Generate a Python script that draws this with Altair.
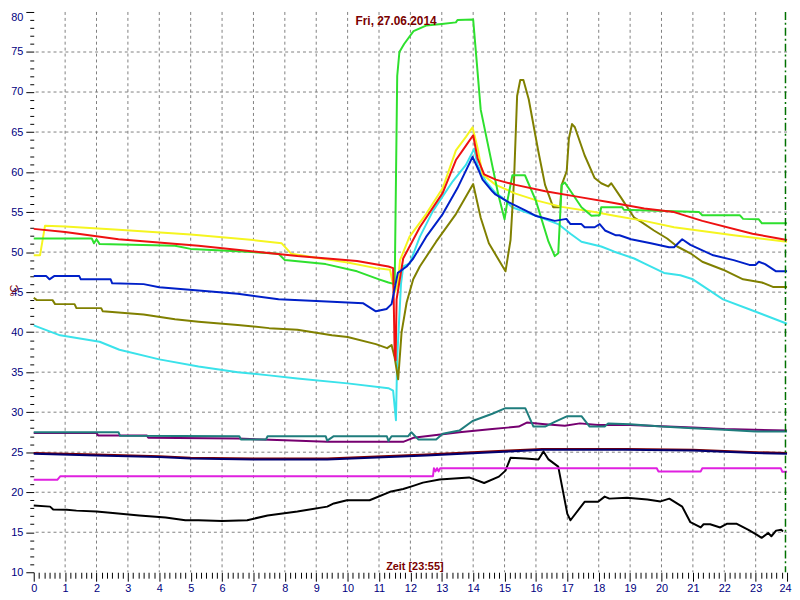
import altair as alt
import pandas as pd

# ---------------- data (hour of day, temperature in °C) ----------------
green_t = [0, 1.85, 1.92, 2.0, 2.1, 4.5, 5.0, 6.5, 7.8, 8.0, 9.3, 10.3, 11.0, 11.3, 11.5, 11.58, 11.65, 11.8, 12.1, 12.5, 13.0, 13.45, 13.5, 14.0, 14.1, 14.24, 14.8, 15.0, 15.1, 15.25, 15.65, 16.0, 16.4, 16.6, 16.71, 16.82, 16.92, 17.45, 17.77, 18.03, 18.08, 18.75, 18.8, 21.2, 21.3, 22.5, 22.6, 23.1, 23.2, 24.0]
green_v = [51.7, 51.7, 51.1, 51.6, 51.0, 50.8, 50.4, 50.1, 49.8, 49.0, 48.5, 47.6, 46.6, 46.2, 46.0, 72.0, 75.0, 76.0, 77.6, 78.3, 78.5, 78.7, 79.0, 79.05, 74.4, 67.8, 57.2, 54.1, 56.6, 59.6, 59.6, 56.4, 51.3, 49.5, 49.85, 58.4, 58.7, 55.6, 54.55, 54.6, 55.6, 55.6, 55.3, 55.0, 54.6, 54.6, 54.15, 54.1, 53.6, 53.6]

yellow_t = [0, 0.2, 0.36, 1.0, 2.7, 5.0, 7.0, 7.9, 8.2, 9.0, 10.0, 10.9, 11.35, 11.5, 11.6, 11.67, 11.97, 12.5, 13.03, 13.45, 13.77, 13.98, 14.14, 14.3, 14.72, 15.35, 16.07, 16.82, 17.87, 18.5, 19.45, 20.4, 22.3, 24.0]
yellow_v = [49.6, 49.6, 53.3, 53.2, 52.8, 52.2, 51.5, 51.1, 49.8, 49.3, 48.7, 48.0, 47.8, 45.0, 46.0, 49.0, 51.9, 54.75, 58.0, 62.7, 64.4, 65.6, 63.0, 59.7, 58.4, 57.3, 56.4, 55.65, 55.0, 54.55, 53.9, 53.1, 52.1, 51.3]

red_t = [0, 1.0, 2.7, 5.25, 8.4, 10.3, 11.3, 11.45, 11.5, 11.53, 11.56, 11.77, 12.3, 13.03, 13.45, 13.77, 14.0, 14.14, 14.35, 14.72, 15.35, 16.3, 17.35, 18.4, 19.45, 20.4, 21.3, 22.9, 24.0]
red_v = [52.9, 52.5, 51.6, 50.8, 49.5, 48.9, 48.2, 48.0, 37.2, 36.5, 44.1, 49.2, 53.1, 57.4, 61.5, 63.3, 64.6, 61.7, 59.7, 59.05, 58.4, 57.6, 56.9, 56.2, 55.45, 55.0, 53.9, 52.3, 51.5]

blue_t = [0, 0.4, 0.5, 0.65, 1.45, 1.5, 2.45, 2.5, 3.5, 4.0, 5.25, 6.5, 7.8, 9.0, 10.5, 10.9, 11.24, 11.4, 11.6, 11.88, 12.09, 12.5, 13.03, 13.5, 13.98, 14.19, 14.3, 14.61, 14.71, 15.14, 15.35, 15.66, 15.98, 16.6, 16.97, 17.1, 17.45, 17.55, 17.87, 18.03, 18.2, 18.55, 18.66, 19.03, 19.66, 20.24, 20.4, 20.66, 20.92, 21.65, 22.3, 22.8, 23.0, 23.1, 23.3, 23.65, 24.0]
blue_v = [47.0, 47.0, 46.6, 47.0, 47.0, 46.6, 46.6, 46.1, 46.0, 45.6, 45.2, 44.8, 44.1, 43.9, 43.6, 42.6, 42.9, 43.5, 47.4, 48.2, 49.2, 51.9, 54.75, 58.0, 61.9, 60.1, 59.05, 57.6, 57.2, 56.2, 55.8, 55.2, 54.55, 53.9, 54.15, 53.5, 53.5, 53.1, 53.1, 53.5, 52.7, 52.1, 52.1, 51.6, 51.1, 50.6, 50.6, 51.6, 50.9, 49.6, 49.0, 48.4, 48.4, 48.8, 48.5, 47.6, 47.6]

olive_t = [0, 0.1, 0.6, 0.68, 1.3, 1.36, 2.15, 2.2, 3.5, 4.5, 5.25, 6.5, 7.5, 8.4, 9.5, 10.0, 10.9, 11.26, 11.4, 11.5, 11.61, 11.72, 11.88, 12.09, 12.3, 12.82, 13.45, 14.0, 14.24, 14.5, 15.03, 15.19, 15.3, 15.4, 15.5, 15.6, 15.77, 16.08, 16.29, 16.55, 16.77, 16.82, 16.98, 17.05, 17.15, 17.24, 17.55, 17.87, 18.08, 18.3, 18.4, 18.71, 19.13, 19.34, 19.76, 20.18, 20.5, 20.92, 21.3, 21.96, 22.6, 23.2, 23.55, 24.0]
olive_v = [44.3, 44.0, 44.0, 43.5, 43.5, 43.0, 43.0, 42.6, 42.2, 41.6, 41.3, 40.9, 40.5, 40.3, 39.6, 39.4, 38.5, 38.0, 38.4, 36.8, 34.1, 40.0, 43.7, 46.6, 48.2, 51.3, 54.75, 58.5, 54.3, 51.1, 47.6, 51.5, 58.85, 69.5, 71.5, 71.5, 69.1, 62.5, 58.4, 55.6, 55.6, 58.4, 60.1, 64.2, 66.0, 65.6, 62.1, 59.25, 58.6, 58.2, 58.6, 56.8, 54.3, 53.8, 52.7, 51.7, 50.7, 49.85, 48.8, 47.8, 46.6, 46.2, 45.65, 45.65]

cyan_t = [0, 0.84, 2.1, 2.73, 4.0, 5.25, 6.5, 7.5, 8.4, 10.0, 11.3, 11.45, 11.54, 11.58, 11.7, 11.77, 11.98, 12.3, 12.72, 13.35, 13.77, 14.03, 14.14, 14.4, 14.71, 14.93, 15.24, 15.98, 16.71, 17.1, 17.45, 18.08, 18.5, 19.13, 19.45, 20.08, 20.6, 21.0, 21.96, 22.9, 24.0]
cyan_v = [40.85, 39.6, 38.8, 37.8, 36.6, 35.7, 35.0, 34.6, 34.2, 33.6, 33.0, 32.7, 29.0, 36.8, 46.0, 48.2, 48.6, 51.9, 55.15, 58.85, 60.9, 62.9, 60.9, 58.85, 57.4, 56.8, 55.6, 54.55, 53.5, 52.3, 51.3, 50.7, 50.05, 49.2, 48.6, 47.4, 47.1, 46.6, 44.1, 42.7, 41.05]

teal_t = [0, 2.7, 2.75, 6.55, 6.6, 7.4, 7.45, 9.3, 9.35, 9.56, 11.25, 11.3, 11.4, 11.93, 12.03, 12.25, 12.82, 13.03, 13.56, 13.98, 14.61, 15.03, 15.66, 15.92, 16.29, 16.6, 17.0, 17.45, 17.71, 18.19, 18.3, 19.0, 20.0, 21.0, 22.0, 23.0, 24.0]
teal_v = [27.5, 27.5, 27.05, 27.0, 26.6, 26.6, 27.0, 27.0, 26.45, 27.0, 27.0, 26.4, 27.0, 27.0, 27.5, 26.6, 26.6, 27.3, 27.7, 28.9, 29.8, 30.5, 30.5, 28.2, 28.2, 28.8, 29.5, 29.5, 28.2, 28.2, 28.6, 28.5, 28.2, 28.0, 27.8, 27.6, 27.6]

purple_t = [0, 2.0, 2.05, 3.6, 3.65, 6.5, 8.0, 9.35, 11.77, 12.09, 13.56, 14.61, 15.45, 15.71, 16.29, 16.92, 17.4, 17.98, 19.0, 21.0, 22.0, 24.0]
purple_v = [27.4, 27.4, 27.1, 27.1, 26.8, 26.7, 26.5, 26.3, 26.3, 26.8, 27.5, 27.9, 28.2, 28.7, 28.5, 28.3, 28.6, 28.4, 28.4, 28.1, 27.9, 27.7]

navy_t = [0, 2.0, 4.0, 5.0, 7.0, 9.35, 12.5, 15.14, 16.2, 18.85, 21.0, 23.0, 24.0]
navy_v = [24.8, 24.6, 24.4, 24.2, 24.1, 24.1, 24.6, 25.1, 25.3, 25.3, 25.2, 24.9, 24.8]

maroon_t = [0, 2.0, 4.0, 5.0, 7.0, 9.35, 12.5, 15.14, 16.2, 18.85, 21.0, 23.0, 24.0]
maroon_v = [24.9, 24.7, 24.5, 24.3, 24.2, 24.2, 24.7, 25.2, 25.4, 25.4, 25.3, 25.0, 24.9]

magenta_t = [0, 0.75, 0.85, 12.72, 12.75, 12.8, 12.85, 12.9, 12.95, 19.85, 19.9, 21.25, 21.3, 23.8, 23.85, 24.0]
magenta_v = [21.55, 21.55, 22.0, 22.0, 23.0, 22.6, 23.0, 22.6, 23.0, 23.0, 22.6, 22.6, 23.0, 23.0, 22.55, 22.55]

black_t = [0, 0.52, 0.62, 1.05, 1.36, 2.0, 2.52, 3.36, 4.2, 4.83, 5.25, 6.0, 6.8, 7.45, 8.4, 9.35, 9.56, 9.98, 10.7, 11.35, 11.77, 12.09, 12.4, 12.93, 13.87, 14.35, 14.82, 15.03, 15.19, 15.66, 16.08, 16.24, 16.4, 16.71, 17.0, 17.1, 17.55, 17.98, 18.19, 18.34, 18.9, 19.55, 19.97, 20.25, 20.66, 20.92, 21.25, 21.34, 21.55, 21.87, 22.08, 22.4, 22.77, 23.03, 23.19, 23.4, 23.5, 23.65, 23.82, 23.87]
black_v = [18.35, 18.2, 17.85, 17.8, 17.7, 17.6, 17.4, 17.1, 16.85, 16.5, 16.5, 16.4, 16.5, 17.1, 17.6, 18.2, 18.6, 19.0, 19.0, 20.05, 20.4, 20.8, 21.2, 21.6, 21.85, 21.15, 21.95, 22.7, 24.3, 24.2, 24.1, 25.1, 24.1, 23.2, 17.3, 16.5, 18.8, 18.8, 19.45, 19.2, 19.3, 19.1, 18.85, 19.2, 18.2, 16.25, 15.6, 16.0, 16.0, 15.6, 16.05, 16.05, 15.3, 14.7, 14.3, 14.9, 14.5, 15.2, 15.3, 15.1]

# draw order: first listed is drawn first (bottom)
series = [
    ("black", black_t, black_v, "#000000"),
    ("magenta", magenta_t, magenta_v, "#e020e0"),
    ("maroon", maroon_t, maroon_v, "#800000"),
    ("navy", navy_t, navy_v, "#000070"),
    ("purple", purple_t, purple_v, "#760070"),
    ("teal", teal_t, teal_v, "#1f7d7d"),
    ("cyan", cyan_t, cyan_v, "#3ae2ea"),
    ("olive", olive_t, olive_v, "#808000"),
    ("yellow", yellow_t, yellow_v, "#f5f520"),
    ("green", green_t, green_v, "#2ee02e"),
    ("red", red_t, red_v, "#ee1111"),
    ("blue", blue_t, blue_v, "#0020c8"),
]

title_text = "Fri, 27.06.2014"
xlabel_text = "Zeit [23:55]"
y_title = "°C"
now_marker = [23.95]

x_major = list(range(0, 25))
x_minor = [i / 6 for i in range(0, 145) if i % 6 != 0]
x_grid = list(range(1, 24))
y_major = list(range(10, 81, 5))
y_minor = [v for v in range(10, 81) if v % 5 != 0]
y_grid = list(range(15, 80, 5))

# ---------------- chart ----------------
XS = alt.Scale(domain=[0, 24], nice=False, zero=False)
YS = alt.Scale(domain=[10, 80], nice=False, zero=False)
FONT = "Liberation Sans"
LABEL_COLOR = "#000080"
DARKRED = "#7a0000"
GRID = dict(color="#808080", strokeWidth=1, strokeDash=[3, 3])

frame = pd.DataFrame({"t": [0, 24], "v": [10, 80]})

vgrid = alt.Chart(pd.DataFrame({"t": x_grid})).mark_rule(**GRID).encode(
    x=alt.X("t:Q", scale=XS, axis=None))
hgrid = alt.Chart(pd.DataFrame({"v": y_grid})).mark_rule(**GRID).encode(
    y=alt.Y("v:Q", scale=YS, axis=None))

major_axes = alt.Chart(frame).mark_point(opacity=0).encode(
    x=alt.X("t:Q", scale=XS, axis=alt.Axis(
        orient="bottom", values=x_major, format="d", title=None,
        domain=False, grid=False, tickSize=9, tickColor="#000000", tickWidth=1,
        labelColor=LABEL_COLOR, labelFont=FONT, labelFontSize=11, labelPadding=1,
        labelFlush=False, labelOverlap=False,
        labelAlign={"condition": {"test": "datum.value == 24", "value": "right"}, "value": "center"},
        labelOffset={"condition": {"test": "datum.value == 24", "value": 4}, "value": 0},
    )),
    y=alt.Y("v:Q", scale=YS, axis=alt.Axis(
        orient="left", values=y_major, format="d",
        title=y_title, titleColor=DARKRED, titleFont=FONT, titleFontSize=11,
        titleFontWeight="normal", titleAngle=-90, titleX=-19, titleY=281,
        titleAlign="center", titleBaseline="middle",
        domain=False, grid=False, tickSize=8, tickColor="#000000", tickWidth=1,
        labelColor=LABEL_COLOR, labelFont=FONT, labelFontSize=11, labelPadding=3,
        labelFlush=False, labelOverlap=False,
        labelBaseline={"condition": {"test": "datum.value == 80", "value": "top"}, "value": "middle"},
    )),
)

minor_axes = alt.Chart(frame).mark_point(opacity=0).encode(
    x=alt.X("t:Q", scale=XS, axis=alt.Axis(
        orient="bottom", values=x_minor, title=None, labels=False, grid=False,
        domain=False, tickSize=6, tickColor="#000000", tickWidth=1)),
    y=alt.Y("v:Q", scale=YS, axis=alt.Axis(
        orient="left", values=y_minor, title=None, labels=False, grid=False,
        domain=False, tickSize=4, tickColor="#000000", tickWidth=1)),
)

line_layers = []
for name, ts, vs, col in series:
    df = pd.DataFrame({"t": ts, "v": vs})
    line_layers.append(
        alt.Chart(df).mark_line(color=col, strokeWidth=2, strokeJoin="round").encode(
            x=alt.X("t:Q", scale=XS, axis=None),
            y=alt.Y("v:Q", scale=YS, axis=None),
            order="t:Q",
        )
    )

marker = alt.Chart(pd.DataFrame({"t": now_marker})).mark_rule(
    color="#007000", strokeWidth=1.5, strokeDash=[8, 3, 2, 3]
).encode(x=alt.X("t:Q", scale=XS, axis=None))

title_mark = alt.Chart(pd.DataFrame({"label": [title_text]})).mark_text(
    font=FONT, fontSize=12, fontWeight="bold", color=DARKRED, align="center", baseline="middle"
).encode(x=alt.value(366), y=alt.value(9), text="label:N")

xlabel_mark = alt.Chart(pd.DataFrame({"label": [xlabel_text]})).mark_text(
    font=FONT, fontSize=11, fontWeight="bold", color=DARKRED, align="center", baseline="middle"
).encode(x=alt.value(385), y=alt.value(561), text="label:N")

chart = alt.layer(
    vgrid, hgrid, major_axes, minor_axes, *line_layers, marker, title_mark, xlabel_mark
).resolve_axis(x="independent", y="independent").resolve_scale(x="shared", y="shared").properties(
    width=761, height=566,
    autosize=alt.AutoSizeParams(type="none"),
    padding={"left": 26, "top": 1, "right": 5, "bottom": 25},
    background="white",
).configure_view(stroke=None)

chart.save("out.html", embed_options={"renderer": "svg", "actions": False})
